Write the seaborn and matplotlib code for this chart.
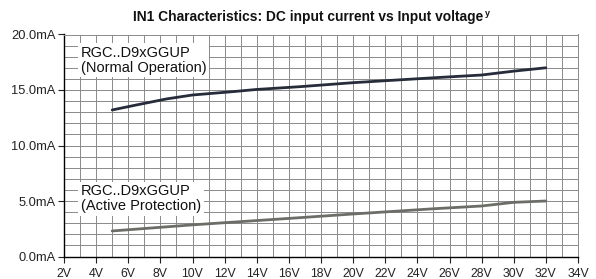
import matplotlib
matplotlib.use("Agg")
import matplotlib.pyplot as plt
from matplotlib import font_manager as fm
import seaborn as sns
import pandas as pd
from matplotlib.ticker import MultipleLocator, FuncFormatter

# Data
voltage = [5, 6.5, 8.4, 10, 12.5, 14, 16.7, 20, 25, 28, 30, 32]
normal_current = [13.2, 13.65, 14.2, 14.55, 14.85, 15.05, 15.3, 15.66, 16.1, 16.35, 16.7, 17.0]
voltage_ap = [5, 10, 16.7, 20, 25, 28, 30, 32]
active_current = [2.3, 2.85, 3.5, 3.83, 4.3, 4.55, 4.88, 5.0]
x_ticks = list(range(2, 35, 2))
y_ticks = [0, 5, 10, 15, 20]

df = pd.DataFrame({
    "V": voltage + voltage_ap,
    "I": normal_current + active_current,
    "series": ["Normal"] * len(voltage) + ["Active"] * len(voltage_ap),
})

sns.set_theme(style="white")

reg_file = bold_file = None
for f in fm.fontManager.ttflist:
    base = f.fname.split("/")[-1]
    if base == "LiberationSans-Regular.ttf":
        reg_file = f.fname
    if base == "LiberationSans-Bold.ttf":
        bold_file = f.fname
fam = fm.FontProperties(fname=reg_file).get_name() if reg_file else "DejaVu Sans"
plt.rcParams["font.family"] = [fam, "DejaVu Sans"]

def fp(size, bold=False):
    fn = bold_file if bold else reg_file
    if fn:
        return fm.FontProperties(fname=fn, size=size)
    return fm.FontProperties(family="DejaVu Sans", size=size, weight="bold" if bold else "normal")

fig = plt.figure(figsize=(5.96, 2.79), dpi=100)
ax = fig.add_axes([64/596, 1 - 256.5/279, (578-64)/596, (256.5-34.5)/279])

sns.lineplot(data=df, x="V", y="I", hue="series",
             palette={"Normal": "#262c3a", "Active": "#6b6e66"},
             linewidth=2.0, legend=False, ax=ax, zorder=3)

ax.set_xlim(2, 34)
ax.set_ylim(0, 20)
ax.set_xticks(x_ticks)
ax.set_yticks(y_ticks)
ax.xaxis.set_minor_locator(MultipleLocator(1))
ax.yaxis.set_minor_locator(MultipleLocator(1))
ax.xaxis.set_major_formatter(FuncFormatter(lambda v, p: f"{int(v)}V"))
ax.yaxis.set_major_formatter(FuncFormatter(lambda v, p: f"{v:.1f}mA"))
ax.grid(which="both", color="#8a8a8a", linewidth=0.7)
ax.set_axisbelow(True)
ax.set_xlabel("")
ax.set_ylabel("")
ax.tick_params(axis="both", which="major", colors="#222222",
               length=4, width=0.8, direction="out", bottom=True, left=True)
ax.tick_params(axis="x", which="major", pad=4)
ax.tick_params(axis="y", which="major", pad=2)
ax.tick_params(axis="both", which="minor", length=0)
for lab in ax.get_xticklabels():
    lab.set_fontproperties(fp(8.8))
for lab in ax.get_yticklabels():
    lab.set_fontproperties(fp(9.3))
for s in ["top", "right"]:
    ax.spines[s].set_color("#8a8a8a")
    ax.spines[s].set_linewidth(0.7)
for s in ["bottom", "left"]:
    ax.spines[s].set_color("#000000")
    ax.spines[s].set_linewidth(1.0)

ax.text(3.05, 19.0, "RGC..D9xGGUP\n(Normal Operation)", fontproperties=fp(10.5),
        va="top", ha="left", color="#111111", linespacing=1.1,
        bbox=dict(facecolor="white", edgecolor="none", pad=2.0), zorder=4)
ax.text(3.05, 6.5, "RGC..D9xGGUP\n(Active Protection)", fontproperties=fp(10.5),
        va="top", ha="left", color="#111111", linespacing=1.1,
        bbox=dict(facecolor="white", edgecolor="none", pad=2.0), zorder=4)

t = fig.text(133/596, 1 - 17/279, "IN1 Characteristics: DC input current vs Input voltage",
             ha="left", va="center", fontproperties=fp(9.9, bold=True), color="#111111")
fig.canvas.draw()
bb = t.get_window_extent()
fig.text(bb.x1 / fig.bbox.width + 0.002, 1 - 14/279, "y", ha="left", va="center",
         fontproperties=fp(6.5, bold=True), color="#111111")

fig.savefig("out.png", dpi=100)
